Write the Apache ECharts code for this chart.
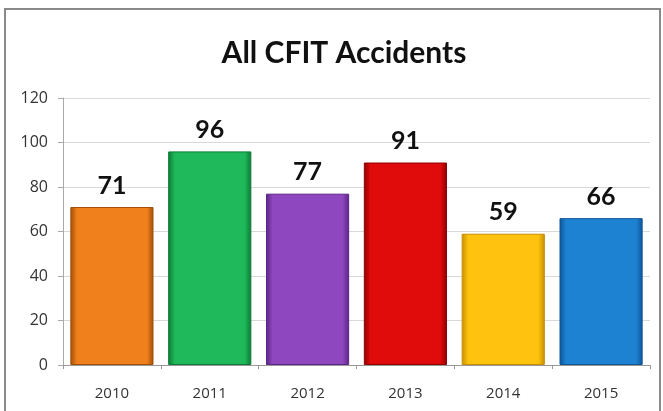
<!DOCTYPE html>
<html>
<head>
  <meta charset="utf-8">
  <title>All CFIT Accidents</title>
  <script src="https://cdn.jsdelivr.net/npm/echarts@6/dist/echarts.min.js"></script>
  <style>
    html, body { margin: 0; padding: 0; background: #fff; }
    #chart { width: 663px; height: 411px; }
  </style>
</head>
<body>
  <div id="chart"></div>
  <script>
    let years = ['2010', '2011', '2012', '2013', '2014', '2015'];
    let accidents = [71, 96, 77, 91, 59, 66];
    let barColors = ['#F0801C', '#1FB85A', '#8E47BF', '#E00B0B', '#FFC20E', '#1E82D2'];
    let edgeColors = ['#A24E08', '#0C7A36', '#5B2585', '#8E0000', '#C58F00', '#0E5598'];
    let yTicks = [0, 20, 40, 60, 80, 100, 120];

    function barStyle(i) {
      return {
        color: {
          type: 'linear', x: 0, y: 0, x2: 1, y2: 0,
          colorStops: [
            { offset: 0, color: edgeColors[i] },
            { offset: 0.08, color: barColors[i] },
            { offset: 0.92, color: barColors[i] },
            { offset: 1, color: edgeColors[i] }
          ]
        },
        borderColor: edgeColors[i],
        borderWidth: 1
      };
    }

    let data = [];
    for (let i in accidents)
      data.push({ value: accidents[i], itemStyle: barStyle(i) });

    let myChart = echarts.init(document.getElementById('chart'));
    let option = {
      animation: false,
      title: {
        text: 'All CFIT Accidents',
        left: 339,
        textAlign: 'center',
        top: 33,
        textStyle: { fontFamily: 'Lato', fontWeight: 'bold', fontSize: 30, color: '#111' }
      },
      graphic: [{
        type: 'rect',
        shape: { x: 5, y: 9, width: 655, height: 420 },
        style: { fill: 'none', stroke: '#8a8a8a', lineWidth: 2 },
        silent: true
      }],
      grid: { left: 63, right: 13, top: 98, bottom: 46 },
      xAxis: {
        type: 'category',
        data: years,
        axisLine: { lineStyle: { color: '#999' } },
        axisTick: { show: true, alignWithLabel: false, length: 4, lineStyle: { color: '#999' } },
        axisLabel: { color: '#333', fontSize: 15, fontFamily: 'Open Sans', margin: 21 }
      },
      yAxis: {
        type: 'value',
        min: yTicks[0],
        max: yTicks[yTicks.length - 1],
        interval: 20,
        axisLine: { show: true, lineStyle: { color: '#aaa' } },
        axisTick: { show: true, length: 5, lineStyle: { color: '#aaa' } },
        axisLabel: { color: '#333', fontSize: 16, fontFamily: 'Open Sans', margin: 15 },
        splitLine: { lineStyle: { color: '#d9d9d9' } }
      },
      series: [{
        type: 'bar',
        data: data,
        barCategoryGap: '15%',
        label: {
          show: true,
          position: 'top',
          distance: 9,
          color: '#111',
          fontSize: 25,
          fontWeight: 'bold',
          fontFamily: 'Lato'
        }
      }]
    };
    myChart.setOption(option);
  </script>
</body>
</html>
